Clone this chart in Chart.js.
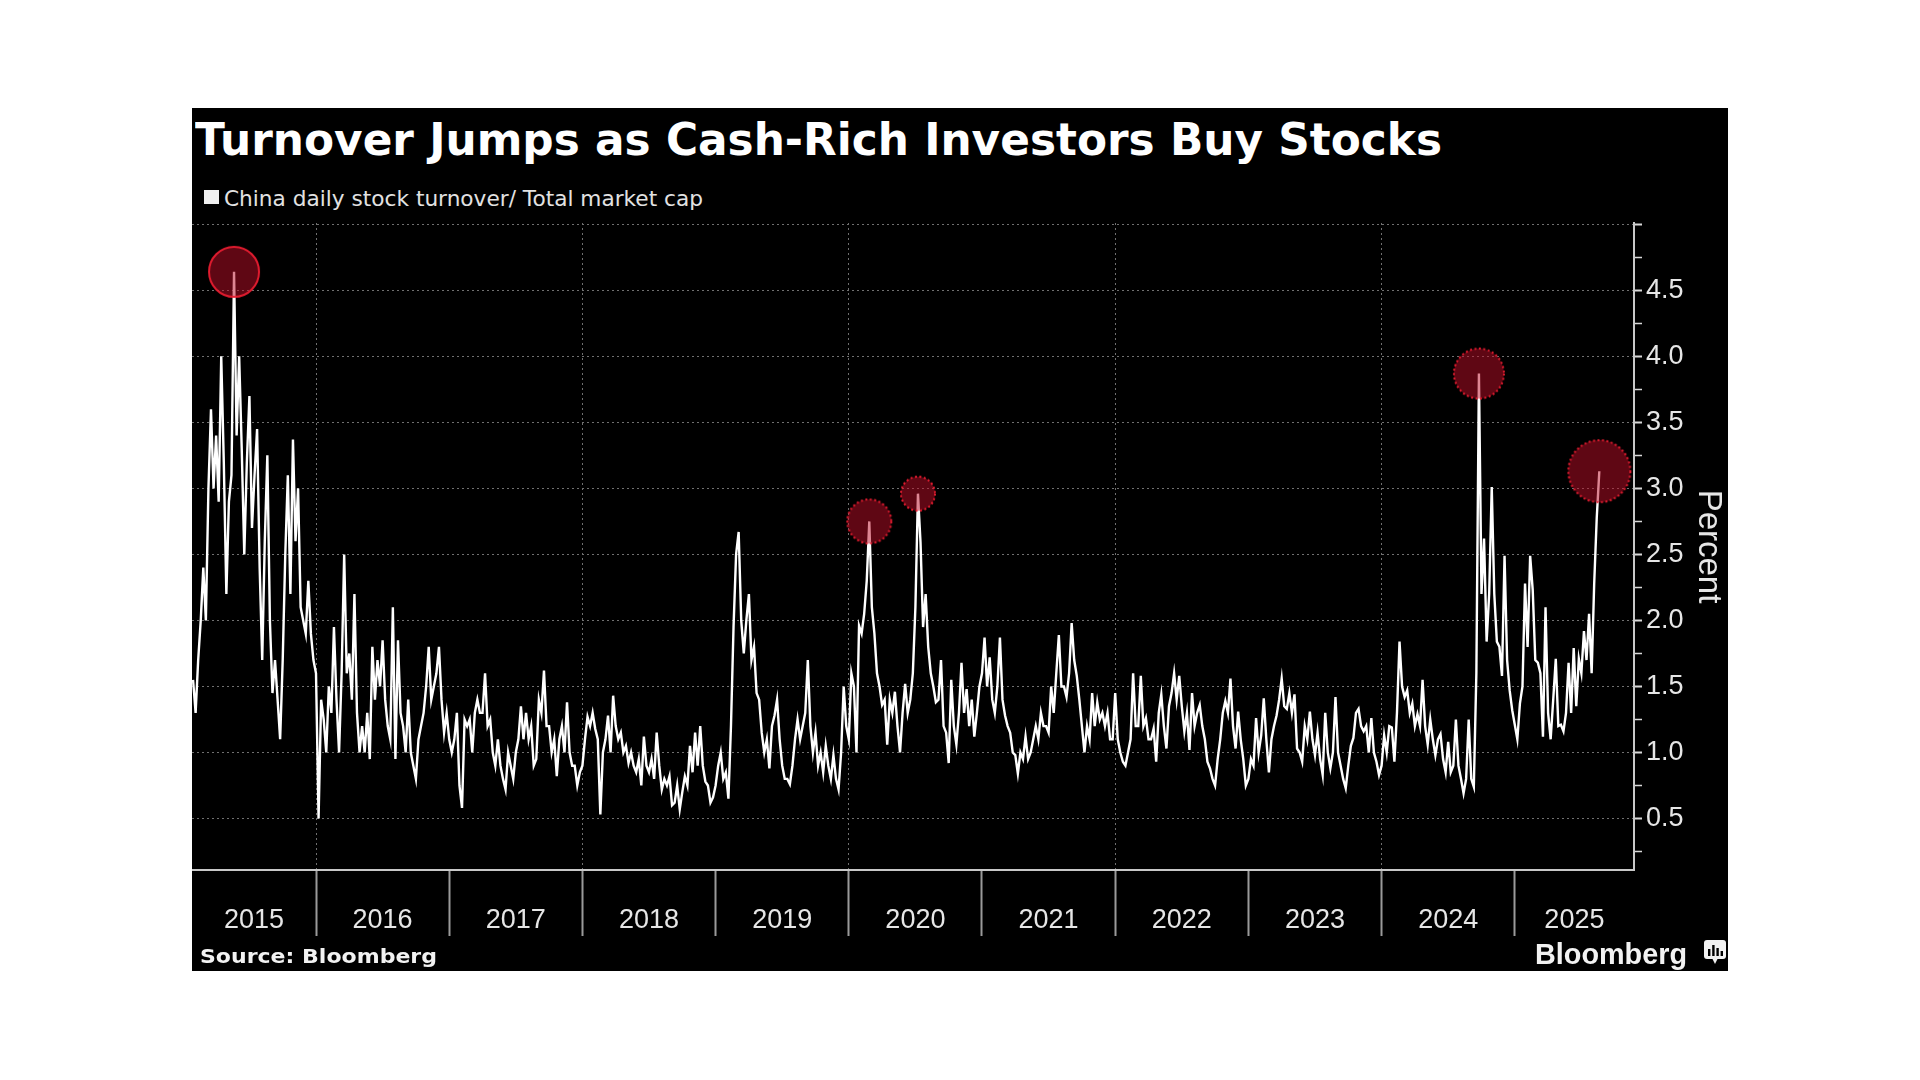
<!DOCTYPE html>
<html>
<head>
<meta charset="utf-8">
<title>Turnover Jumps as Cash-Rich Investors Buy Stocks</title>
<script src="https://cdn.jsdelivr.net/npm/chart.js@4.4.1/dist/chart.umd.min.js"></script>
<style>
  html, body { margin: 0; padding: 0; background: #fff; }
  body { width: 1920px; height: 1080px; position: relative; overflow: hidden; }
  #panel { position: absolute; left: 192px; top: 108px; width: 1536px; height: 863px; background: #000; }
  .txt { position: absolute; white-space: nowrap; line-height: 1; transform-origin: 0 0; }
  #title { left: 195px; top: 114px; font: bold 44px "DejaVu Sans"; color: #fff; }
  #legBox { position: absolute; left: 204px; top: 190px; width: 15px; height: 14px; background: #f0f0f0; }
  #legTxt { left: 224px; top: 186px; font: 22px "DejaVu Sans"; color: #e2e2e2; }
  #source { left: 200px; top: 944px; font: bold 20px "DejaVu Sans"; color: #f2f2f2; }
  #brand { left: 1535px; top: 937px; font: bold 30px "Liberation Sans"; color: #f2f2f2; }
  #logo { position: absolute; left: 1704px; top: 940px; }
  #wrap { position: absolute; left: 192px; top: 213px; width: 1536px; height: 739px; }
</style>
</head>
<body>
<div id="panel"></div>
<div id="title" class="txt">Turnover Jumps as Cash-Rich Investors Buy Stocks</div>
<div id="legBox"></div>
<div id="legTxt" class="txt">China daily stock turnover/ Total market cap</div>
<div id="wrap"><canvas id="chart" width="1536" height="739"></canvas></div>
<div id="source" class="txt">Source: Bloomberg</div>
<div id="brand" class="txt">Bloomberg</div>
<svg id="logo" width="22" height="25" viewBox="0 0 22 25">
  <rect x="0" y="0" width="22" height="19" rx="3" fill="#f2f2f2"/>
  <polygon points="8,18 14,18 11,24" fill="#f2f2f2"/>
  <rect x="4" y="9" width="2.4" height="7" fill="#000"/>
  <rect x="8.2" y="5" width="2.4" height="11" fill="#000"/>
  <rect x="12.4" y="8" width="2.4" height="8" fill="#000"/>
  <rect x="16.6" y="11" width="2.4" height="5" fill="#000"/>
</svg>
<script>
// weekly readings of the daily ratio, percent (week index i -> year + i/52)
const firstWeek2015 = 4;
const y2015 = [1.55,1.3,1.7,2.0,2.4,2.0,3.0,3.6,3.0,3.4, 2.9,4.0,3.2,2.2,2.9,3.1,4.64,3.4,4.0,3.3,
  2.5,3.2,3.7,2.7,3.1,3.45,2.4,1.7,2.6,3.25, 2.0,1.45,1.7,1.4,1.1,1.7,2.5,3.1,2.2,3.37, 2.6,3.0,2.1,2.0,1.9,2.3,1.9,1.7];
const y2016 = [1.6,0.5,1.4,1.25,1.0,1.5,1.3,1.95,1.4,1.0, 1.6,2.5,1.6,1.75,1.4,2.2,1.3,1.0,1.2,1.0,
  1.3,0.95,1.8,1.4,1.7,1.5,1.85,1.4,1.2,1.1, 2.1,0.95,1.85,1.3,1.2,1.0,1.4,1.0,0.9,0.8,
  1.1,1.2,1.3,1.5,1.8,1.4,1.5,1.6,1.8,1.4, 1.15,1.3];
const y2017 = [1.1,1.0,1.1,1.3,0.75,0.58,1.25,1.2,1.25,1.0, 1.3,1.4,1.3,1.3,1.6,1.2,1.25,1.0,0.9,1.1,
  0.9,0.8,0.72,1.0,0.9,0.8,1.0,1.1,1.35,1.1, 1.3,1.1,1.2,0.9,0.95,1.4,1.3,1.62,1.2,1.2,
  1.0,1.1,0.82,1.1,1.2,1.0,1.38,1.0,0.9,0.9, 0.75,0.85];
const y2018 = [0.9,1.1,1.27,1.2,1.3,1.18,1.1,0.53,1.0,1.1, 1.28,1.0,1.43,1.2,1.1,1.15,1.0,1.05,0.92,1.0,
  0.9,0.85,0.95,0.75,1.12,0.9,0.85,0.95,0.8,1.15, 0.9,0.72,0.8,0.75,0.82,0.6,0.62,0.75,0.57,0.7,
  0.82,0.75,1.05,0.85,1.15,0.9,1.2,0.9,0.78,0.75, 0.62,0.66];
const y2019 = [0.75,0.9,1.0,0.8,0.85,0.65,1.2,1.95,2.5,2.67, 2.0,1.75,2.0,2.2,1.7,1.8,1.45,1.4,1.15,1.0,
  1.1,0.88,1.2,1.28,1.4,1.1,0.9,0.8,0.8,0.76, 0.9,1.1,1.25,1.1,1.2,1.3,1.7,1.2,1.0,1.15,
  0.9,1.0,0.85,1.05,0.9,0.8,0.98,0.8,0.72,1.0, 1.5,1.2];
const y2020 = [1.1,1.6,1.5,1.0,1.96,1.9,2.05,2.3,2.75,2.1, 1.9,1.6,1.5,1.36,1.4,1.06,1.4,1.3,1.46,1.2,
  1.0,1.3,1.52,1.3,1.4,1.6,2.1,2.96,2.59,1.95, 2.2,1.8,1.6,1.5,1.38,1.4,1.7,1.2,1.15,0.92,
  1.55,1.2,1.06,1.3,1.68,1.3,1.48,1.2,1.4,1.12, 1.3,1.5];
const y2021 = [1.6,1.87,1.5,1.72,1.4,1.3,1.5,1.87,1.4,1.28, 1.2,1.15,1.0,0.98,0.84,1.0,0.95,1.12,0.95,1.0,
  1.1,1.2,1.1,1.3,1.2,1.2,1.15,1.5,1.3,1.6, 1.89,1.5,1.5,1.42,1.6,1.98,1.7,1.58,1.4,1.2,
  1.0,1.2,1.1,1.45,1.2,1.38,1.25,1.3,1.2,1.3, 1.1,1.1];
const y2022 = [1.45,1.1,1.0,0.93,0.9,1.0,1.1,1.6,1.2,1.2, 1.58,1.2,1.26,1.1,1.1,1.18,0.93,1.3,1.44,1.2,
  1.03,1.35,1.45,1.6,1.4,1.58,1.35,1.16,1.3,1.02, 1.45,1.2,1.3,1.36,1.2,1.1,0.93,0.88,0.8,0.75,
  0.95,1.1,1.3,1.39,1.3,1.56,1.2,1.03,1.31,1.1, 0.95,0.75];
const y2023 = [0.8,0.95,0.9,1.26,1.0,1.13,1.41,1.1,0.85,1.1, 1.2,1.28,1.4,1.56,1.35,1.33,1.45,1.3,1.44,1.03,
  1.0,0.93,1.2,1.1,1.31,1.1,0.98,1.15,0.95,0.83, 1.3,1.0,0.88,1.0,1.42,1.0,0.9,0.8,0.73,0.9,
  1.05,1.11,1.3,1.33,1.2,1.16,1.2,1.0,1.26,1.0, 0.93,0.83];
const y2024 = [0.9,1.13,1.0,1.2,1.19,0.93,1.3,1.84,1.5,1.42, 1.47,1.3,1.37,1.2,1.29,1.2,1.55,1.2,1.06,1.25,
  1.1,0.98,1.1,1.14,0.95,0.85,1.08,0.85,0.9,1.25, 0.9,0.8,0.69,0.8,1.25,0.8,0.74,1.6,3.87,2.2,
  2.62,1.84,2.2,3.01,2.2,1.84,1.8,1.58,2.49,1.7, 1.47,1.32];
const y2025 = [1.21,1.1,1.37,1.5,2.28,1.8,2.49,2.23,1.7,1.68, 1.6,1.12,2.1,1.3,1.1,1.4,1.71,1.2,1.21,1.16,
  1.3,1.68,1.3,1.79,1.35,1.71,1.6,1.92,1.7,2.05, 1.6,2.28,2.78,3.13];

// highlighted peaks
const peakDates = [2015 + 20 / 52, 2020 + 8 / 52, 2020 + 27 / 52, 2024 + 38 / 52, 2025 + 33 / 52];
const peakValues = [4.64, 2.75, 2.96, 3.87, 3.13];

const yearLabels = ['2015','2016','2017','2018','2019','2020','2021','2022','2023','2024','2025'];
const yearEdges = [2016, 2017, 2018, 2019, 2020, 2021, 2022, 2023, 2024, 2025];
const yTicks = [0.25,0.5,0.75,1,1.25,1.5,1.75,2,2.25,2.5,2.75,3,3.25,3.5,3.75,4,4.25,4.5,4.75,5];

const xMin = 2015.069, xMax = 2025.895;
const yearMids = [(xMin + 2016) / 2, 2016.5, 2017.5, 2018.5, 2019.5, 2020.5, 2021.5, 2022.5, 2023.5, 2024.5, (2025 + xMax) / 2];

const series = [[2015, y2015], [2016, y2016], [2017, y2017], [2018, y2018], [2019, y2019], [2020, y2020],
  [2021, y2021], [2022, y2022], [2023, y2023], [2024, y2024], [2025, y2025]];
const points = [];
series.forEach(([yr, vals]) => {
  const start = yr === 2015 ? firstWeek2015 : 0;
  vals.forEach((v, k) => points.push({ x: yr + (start + k) / 52, y: v }));
});

const ringSize = [25, 22, 17, 25, 31];
const ringDotted = [false, true, true, true, true];

function ring(r, dotted) {
  const c = document.createElement('canvas');
  c.width = c.height = 2 * r + 4;
  const g = c.getContext('2d');
  g.beginPath();
  g.arc(r + 2, r + 2, r, 0, Math.PI * 2);
  g.fillStyle = 'rgba(190, 14, 40, 0.5)';
  g.fill();
  g.lineWidth = 2;
  if (dotted) g.setLineDash([2, 2.5]);
  g.strokeStyle = 'rgba(235, 30, 50, 0.95)';
  g.stroke();
  return c;
}

const isHalf = v => Math.abs(v * 2 - Math.round(v * 2)) < 1e-6;
const labelled = v => isHalf(v) && v < 4.9;

// fixed axis sizes, no extra label padding, so the plot area lands where it is in the picture
function fixSize(w, h) {
  return s => {
    if (w !== null) s.width = w;
    if (h !== null) s.height = h;
    s.paddingLeft = s.paddingRight = s.paddingTop = s.paddingBottom = 0;
  };
}

new Chart(document.getElementById('chart'), {
  type: 'line',
  data: {
    datasets: [
      {
        label: 'peaks',
        data: peakDates.map((d, i) => ({ x: d, y: peakValues[i] })),
        showLine: false,
        pointStyle: ringSize.map((r, i) => ring(r, ringDotted[i])),
        pointRadius: ringSize,
        order: 0,
        clip: false
      },
      {
        label: 'China daily stock turnover/ Total market cap',
        data: points,
        borderColor: '#ffffff',
        borderWidth: 2.4,
        pointRadius: 0,
        tension: 0,
        order: 1
      }
    ]
  },
  options: {
    responsive: false,
    animation: false,
    layout: { autoPadding: false, padding: { top: 10, left: 0, right: 0, bottom: 0 } },
    plugins: { legend: { display: false }, tooltip: { enabled: false } },
    scales: {
      x: {
        type: 'linear', min: xMin, max: xMax, weight: 0,
        afterBuildTicks: s => { s.ticks = yearEdges.map(v => ({ value: v })); },
        afterFit: fixSize(null, 0),
        ticks: { display: false, autoSkip: false },
        grid: {
          color: c => (c.tick && c.tick.value % 2 === 0) ? '#707070' : 'rgba(0,0,0,0)',
          lineWidth: 1,
          tickLength: 66,
          tickColor: '#9a9a9a',
          tickWidth: 2
        },
        border: { color: '#c8c8c8', width: 2, dash: [2, 3] }
      },
      xl: {
        type: 'linear', position: 'bottom', min: xMin, max: xMax, weight: 1,
        afterBuildTicks: s => { s.ticks = yearMids.map(v => ({ value: v })); },
        afterFit: fixSize(null, 82),
        grid: { display: false, drawTicks: false },
        border: { display: false },
        ticks: {
          autoSkip: false, maxRotation: 0, padding: 34, color: '#e6e6e6',
          font: { family: 'Liberation Sans', size: 27 },
          callback: (v, i) => yearLabels[i]
        }
      },
      y: {
        position: 'right', min: 0.11, max: 5.01,
        afterBuildTicks: s => { s.ticks = yTicks.map(v => ({ value: v })); },
        afterFit: fixSize(94, null),
        ticks: {
          autoSkip: false, padding: 4, color: '#e6e6e6',
          font: c => ({ family: 'Liberation Sans', size: (c.tick && labelled(c.tick.value)) ? 27 : 2 }),
          callback: v => labelled(v) ? v.toFixed(1) : ''
        },
        grid: {
          color: c => (c.tick && isHalf(c.tick.value)) ? '#707070' : 'rgba(0,0,0,0)',
          lineWidth: 1,
          tickLength: 8,
          tickColor: '#d8d8d8',
          tickWidth: c => (c.tick && isHalf(c.tick.value)) ? 2 : 1.5
        },
        border: { color: '#c8c8c8', width: 2, dash: [2, 3] },
        title: {
          display: true, text: 'Percent', color: '#e6e6e6', padding: 0,
          font: { family: 'Liberation Sans', size: 33 }
        }
      }
    }
  }
});

// squeeze the header/footer texts to the widths they take in the picture
function fit(id, w) {
  const el = document.getElementById(id);
  const r = el.getBoundingClientRect().width;
  if (r > 0) el.style.transform = 'scaleX(' + (w / r) + ')';
}
document.fonts.ready.then(() => {
  fit('title', 1247);
  fit('legTxt', 479);
  fit('source', 237);
  fit('brand', 152);
});
</script>
</body>
</html>
